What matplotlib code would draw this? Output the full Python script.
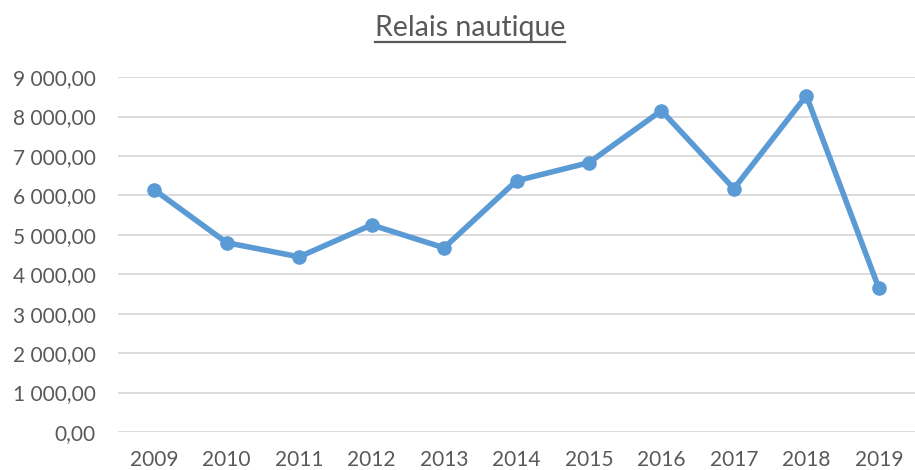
import matplotlib.pyplot as plt
import numpy as np
from matplotlib.lines import Line2D
from matplotlib.ticker import FuncFormatter

# Data
years = ['2009', '2010', '2011', '2012', '2013', '2014', '2015', '2016', '2017', '2018', '2019']
values = [6140, 4800, 4440, 5250, 4670, 6370, 6830, 8150, 6170, 8530, 3650]
y_ticks = [0, 1000, 2000, 3000, 4000, 5000, 6000, 7000, 8000, 9000]

line_color = '#5B9BD5'
text_color = '#595959'
grid_color = '#D9D9D9'

plt.rcParams['font.family'] = ['Lato', 'DejaVu Sans']

fig = plt.figure(figsize=(9.15, 4.70), dpi=100)
ax = fig.add_axes([0.129, 0.081, 0.871, 0.755])

x = np.arange(len(years))
ax.plot(x, values, color=line_color, linewidth=4, marker='o', markersize=9.5,
        solid_capstyle='round', solid_joinstyle='round', zorder=3)

ax.set_xlim(-0.5, len(years) - 0.5)
ax.set_ylim(0, 9000)
ax.set_xticks(x)
ax.set_xticklabels(years)
ax.set_yticks(y_ticks)

def fr_fmt(v, pos):
    s = f"{v:,.2f}"
    return s.replace(',', ' ').replace('.', ',')

ax.yaxis.set_major_formatter(FuncFormatter(fr_fmt))
ax.tick_params(axis='both', length=0, labelsize=15, labelcolor=text_color)
ax.tick_params(axis='y', pad=16)
ax.tick_params(axis='x', pad=13)
ax.grid(axis='y', color=grid_color, linewidth=1.3)
ax.set_axisbelow(True)
for s in ax.spines.values():
    s.set_visible(False)

# underlined title
title = fig.text(0.514, 1 - 36 / 470, 'Relais nautique', ha='center', va='baseline',
                 fontsize=20.5, color=text_color)
fig.canvas.draw()
bb = title.get_window_extent().transformed(fig.transFigure.inverted())
uy = 1 - 42 / 470
fig.add_artist(Line2D([bb.x0, bb.x1], [uy, uy], color=text_color, linewidth=1.6,
                      transform=fig.transFigure))

fig.savefig('out.png', dpi=100)
